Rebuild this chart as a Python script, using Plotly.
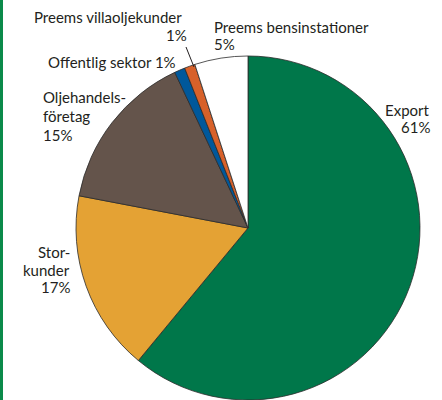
import plotly.graph_objects as go

W, H = 442, 400

categories = ["Export", "Storkunder", "Oljehandelsföretag", "Offentlig sektor",
              "Preems villaoljekunder", "Preems bensinstationer"]
shares = [61, 17, 15, 1, 1, 5]
colors = ["#00774a", "#e4a234", "#64544b", "#00589b", "#d7612a", "#ffffff"]

# label text lines for each slice
label_lines = [
    ["Export", "61%"],
    ["Stor-", "kunder", "17%"],
    ["Oljehandels-", "företag", "15%"],
    ["Offentlig sektor 1%"],
    ["Preems villaoljekunder", "1%"],
    ["Preems bensinstationer", "5%"],
]


def px_x(x):
    return x / W


def px_y(y):
    return 1 - y / H


fig = go.Figure(go.Pie(
    labels=categories,
    values=shares,
    sort=False,
    direction="clockwise",
    rotation=0,
    textinfo="none",
    hoverinfo="label+percent",
    marker=dict(colors=colors, line=dict(color="#2b2b2b", width=0.8)),
    domain=dict(x=[px_x(76), px_x(420)], y=[px_y(400), px_y(56)]),
    showlegend=False,
))

# (anchor x px, first line centre y px, line step px, align)
placements = [
    (432, 110, 17.5, "right"),
    (72, 252, 17.5, "right"),
    (41, 97, 19, "left"),
    (46, 62, 0, "left"),
    (189, 17, 18, "right"),
    (212, 27, 17.5, "left"),
]

font = dict(family="Lato, Open Sans, sans-serif", size=15, color="#231f20")
annotations = []
for lines, (ax, ay, step, align) in zip(label_lines, placements):
    for i, t in enumerate(lines):
        x = ax
        if t == "Preems villaoljekunder":
            x = 184
        annotations.append(dict(
            x=px_x(x), y=px_y(ay + i * step), xref="paper", yref="paper",
            text=t, showarrow=False, xanchor=align, yanchor="middle",
            font=font,
        ))

fig.update_layout(
    width=W, height=H,
    margin=dict(l=0, r=0, t=0, b=0),
    paper_bgcolor="white",
    annotations=annotations,
    shapes=[
        dict(type="line", xref="paper", yref="paper",
             x0=px_x(186), y0=px_y(47), x1=px_x(194), y1=px_y(67),
             line=dict(color="#231f20", width=1)),
        dict(type="rect", xref="paper", yref="paper",
             x0=0, x1=px_x(3), y0=0, y1=1,
             line=dict(width=0), fillcolor="#0b8a4a"),
    ],
)

fig.write_html("out.html", config={"displayModeBar": False},
               post_script="document.body.style.margin='0';")
